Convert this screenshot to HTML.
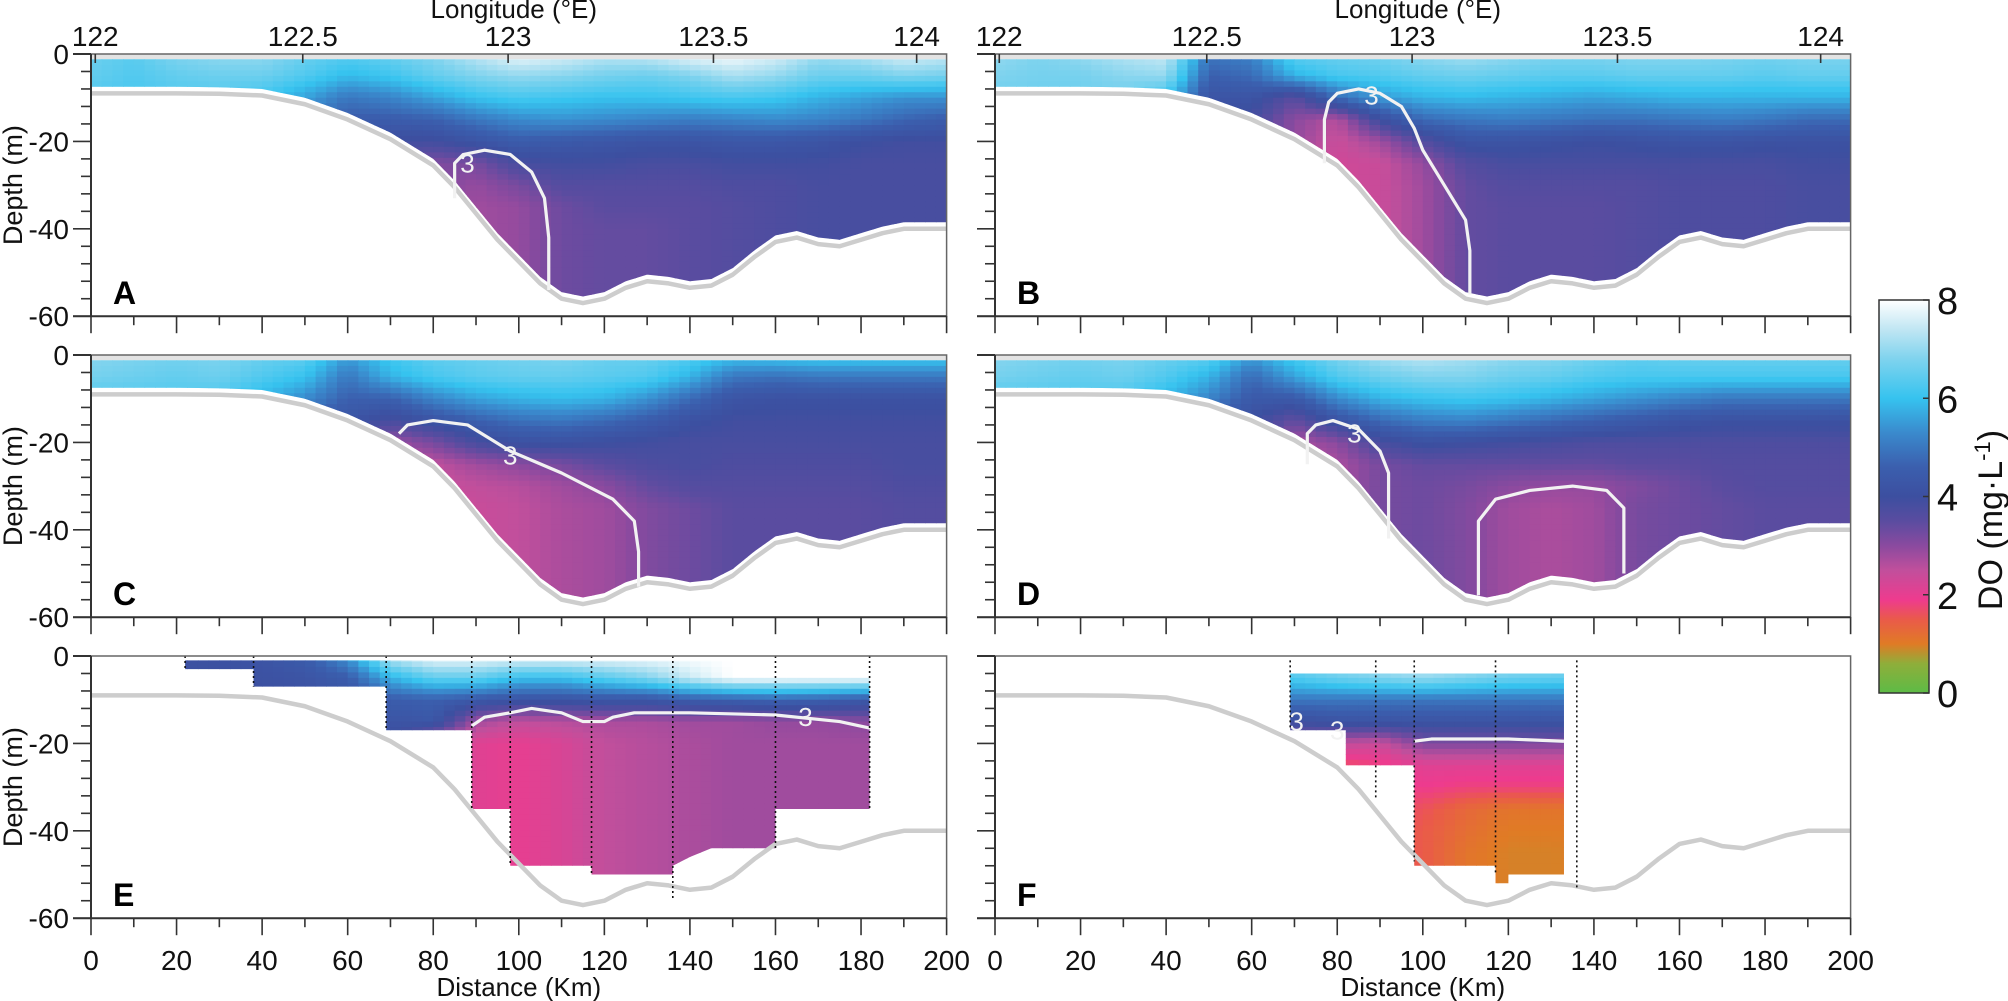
<!DOCTYPE html>
<html><head><meta charset="utf-8"><style>
html,body{margin:0;padding:0;background:#fff;}
svg{display:block;font-family:"Liberation Sans",Arial,sans-serif;}
</style></head><body>
<svg id="chart" width="2008" height="1001" viewBox="0 0 2008 1001" xmlns="http://www.w3.org/2000/svg">
<defs>
<linearGradient id="cbgrad" x1="0" y1="1" x2="0" y2="0"></linearGradient>
</defs>
<g id="panels"></g>
<g id="colorbar"></g>
</svg>
<script>
// ---- data ----
const gridKm = [0,10,20,30,40,50,60,70,80,90,100,110,120,130,140,150,160,170,180,190,200];
const gridDepth = [0,-5,-10,-15,-20,-25,-30,-35,-40,-45,-50,-55,-60];
const bathyKm = [0,10,20,30,40,50,60,70,80,85,90,95,100,105,110,115,120,125,130,135,140,145,150,155,160,165,170,175,180,185,190,195,200];
const bathyDepth = [-7.5,-7.5,-7.5,-7.6,-8,-10,-13.5,-18,-24,-29,-35,-41,-46,-51,-54.5,-55.5,-54.5,-52,-50.5,-51,-52,-51.5,-49,-45,-41.5,-40.5,-42,-42.5,-41,-39.5,-38.5,-38.5,-38.5];
const cbTicks = [0,2,4,6,8];
const depthTicks = [0,-20,-40,-60];
const distTicks = [0,20,40,60,80,100,120,140,160,180,200];
const lonTicks = ["122","122.5","123","123.5","124"];
const lonKm = [1,49.5,97.5,145.5,193];

const doA = [
[6.6,6.4,6.8,7.0,7.0,6.6,6.4,6.6,6.9,7.4,7.9,7.7,7.4,7.5,7.9,8.0,7.7,7.1,7.3,7.7,7.5],
[6.5,6.3,6.5,6.6,6.6,6.3,5.9,6.1,6.5,6.8,7.0,6.9,6.7,6.6,6.8,7.2,7.0,6.6,6.6,6.8,6.7],
[6.3,6.2,6.3,6.3,6.1,5.6,5.0,5.2,5.6,6.0,6.2,6.1,6.0,6.0,6.1,6.2,6.1,5.8,5.6,5.4,5.4],
[6.0,6.0,6.0,5.8,5.5,4.9,4.5,4.5,4.6,5.0,5.3,5.4,5.3,5.2,5.1,5.2,5.3,5.2,5.0,4.7,4.5],
[5.5,5.5,5.5,5.2,4.8,4.3,4.0,3.9,3.9,4.2,4.5,4.4,4.3,4.2,4.2,4.3,4.3,4.2,4.0,3.9,3.9],
[5.0,5.0,5.0,4.8,4.4,4.0,3.8,3.5,3.1,3.2,3.8,3.9,3.9,3.8,3.8,3.9,3.9,3.9,3.8,3.8,3.8],
[4.5,4.5,4.5,4.4,4.2,3.9,3.7,3.4,3.1,2.9,3.2,3.6,3.6,3.6,3.6,3.7,3.7,3.8,3.8,3.8,3.8],
[4.3,4.3,4.3,4.2,4.0,3.8,3.6,3.3,3.1,2.8,2.9,3.3,3.5,3.5,3.5,3.6,3.7,3.8,3.8,3.8,3.8],
[4.2,4.2,4.2,4.1,3.9,3.8,3.6,3.3,3.1,2.8,2.9,3.3,3.4,3.4,3.5,3.6,3.7,3.8,3.8,3.8,3.8],
[4.2,4.2,4.2,4.1,3.9,3.8,3.6,3.3,3.1,2.8,2.9,3.3,3.4,3.4,3.5,3.6,3.7,3.8,3.8,3.8,3.8],
[4.2,4.2,4.2,4.1,3.9,3.8,3.6,3.3,3.1,2.8,2.9,3.3,3.4,3.4,3.5,3.6,3.7,3.8,3.8,3.8,3.8],
[4.2,4.2,4.2,4.1,3.9,3.8,3.6,3.3,3.1,2.8,2.9,3.3,3.4,3.4,3.5,3.6,3.7,3.8,3.8,3.8,3.8],
[4.2,4.2,4.2,4.1,3.9,3.8,3.6,3.3,3.1,2.8,2.9,3.3,3.4,3.4,3.5,3.6,3.7,3.8,3.8,3.8,3.8]];
const doB = [
[7.0,6.8,7.0,7.3,7.5,5.0,5.2,6.5,6.6,6.7,7.0,7.2,7.0,6.8,6.8,6.9,6.9,6.8,6.7,6.8,6.8],
[6.8,6.7,6.7,6.9,7.0,4.6,4.8,5.8,6.2,6.3,6.5,6.6,6.5,6.4,6.4,6.5,6.5,6.5,6.4,6.5,6.5],
[6.6,6.6,6.6,6.6,6.0,4.2,4.2,3.5,4.8,5.5,5.8,5.9,5.8,5.7,5.6,5.7,5.8,5.8,5.8,5.8,5.8],
[6.0,6.0,6.0,5.8,5.0,4.0,3.8,3.0,2.6,4.0,4.8,5.0,5.1,5.0,4.9,4.9,5.0,5.1,5.0,4.8,4.8],
[5.5,5.5,5.5,5.2,4.5,3.9,3.6,2.9,2.4,2.8,3.6,4.2,4.2,4.1,4.0,4.1,4.2,4.2,4.1,4.1,4.1],
[5.0,5.0,5.0,4.8,4.2,3.8,3.5,2.8,2.3,2.4,2.9,3.6,3.8,3.8,3.8,3.8,3.8,3.8,3.8,3.9,3.9],
[4.6,4.6,4.6,4.4,4.0,3.7,3.5,2.8,2.3,2.4,2.8,3.4,3.6,3.6,3.6,3.6,3.7,3.7,3.7,3.8,3.8],
[4.6,4.6,4.6,4.4,4.0,3.7,3.5,2.8,2.3,2.4,2.8,3.4,3.5,3.5,3.5,3.6,3.7,3.7,3.7,3.8,3.8],
[4.6,4.6,4.6,4.4,4.0,3.7,3.5,2.8,2.3,2.4,2.8,3.4,3.5,3.5,3.5,3.6,3.7,3.7,3.7,3.8,3.8],
[4.6,4.6,4.6,4.4,4.0,3.7,3.5,2.8,2.3,2.4,2.8,3.4,3.5,3.5,3.5,3.6,3.7,3.7,3.7,3.8,3.8],
[4.6,4.6,4.6,4.4,4.0,3.7,3.5,2.8,2.3,2.4,2.8,3.4,3.5,3.5,3.5,3.6,3.7,3.7,3.7,3.8,3.8],
[4.6,4.6,4.6,4.4,4.0,3.7,3.5,2.8,2.3,2.4,2.8,3.4,3.5,3.5,3.5,3.6,3.7,3.7,3.7,3.8,3.8],
[4.6,4.6,4.6,4.4,4.0,3.7,3.5,2.8,2.3,2.4,2.8,3.4,3.5,3.5,3.5,3.6,3.7,3.7,3.7,3.8,3.8]];
const doC = [
[6.9,6.8,6.7,6.8,6.6,6.5,5.6,6.2,6.5,6.6,6.7,6.8,6.6,6.6,6.4,6.1,6.2,6.3,6.3,6.3,6.3],
[6.7,6.6,6.5,6.6,6.3,6.0,5.0,5.8,6.2,6.4,6.5,6.5,6.4,6.3,5.8,5.0,4.9,5.0,5.0,5.0,5.0],
[6.3,6.3,6.3,6.2,5.8,5.3,4.6,4.6,5.2,5.6,5.8,5.9,5.8,5.4,4.8,4.2,4.1,4.1,4.1,4.1,4.1],
[6.0,6.0,6.0,5.6,5.0,4.5,4.2,3.8,4.2,4.6,4.9,5.0,4.8,4.5,4.1,3.9,3.9,3.9,3.9,3.9,3.9],
[5.5,5.5,5.4,5.2,4.7,4.3,3.9,2.8,3.2,3.8,4.1,4.1,4.0,3.9,3.8,3.8,3.8,3.8,3.8,3.8,3.8],
[5.0,5.0,5.0,4.8,4.5,4.2,3.8,2.5,2.5,2.8,3.0,3.2,3.5,3.7,3.8,3.7,3.7,3.7,3.7,3.8,3.8],
[4.6,4.6,4.6,4.5,4.3,4.1,3.7,2.4,2.4,2.5,2.6,2.8,3.0,3.4,3.6,3.6,3.6,3.6,3.6,3.7,3.7],
[4.5,4.5,4.5,4.4,4.2,4.0,3.6,2.4,2.3,2.4,2.5,2.7,2.8,3.1,3.3,3.5,3.5,3.5,3.5,3.6,3.6],
[4.5,4.5,4.5,4.4,4.2,4.0,3.6,2.4,2.3,2.4,2.5,2.7,2.8,3.1,3.3,3.5,3.5,3.5,3.5,3.6,3.6],
[4.5,4.5,4.5,4.4,4.2,4.0,3.6,2.4,2.3,2.4,2.5,2.7,2.8,3.1,3.3,3.5,3.5,3.5,3.5,3.6,3.6],
[4.5,4.5,4.5,4.4,4.2,4.0,3.6,2.4,2.3,2.4,2.5,2.7,2.8,3.1,3.3,3.5,3.5,3.5,3.5,3.6,3.6],
[4.5,4.5,4.5,4.4,4.2,4.0,3.6,2.4,2.3,2.4,2.5,2.7,2.8,3.1,3.3,3.5,3.5,3.5,3.5,3.6,3.6],
[4.5,4.5,4.5,4.4,4.2,4.0,3.6,2.4,2.3,2.4,2.5,2.7,2.8,3.1,3.3,3.5,3.5,3.5,3.5,3.6,3.6]];
const doD = [
[6.9,6.8,6.7,6.8,6.6,6.5,5.6,6.3,6.8,7.2,7.4,7.2,7.0,6.9,6.7,6.5,6.6,6.6,6.6,6.6,6.6],
[6.7,6.6,6.5,6.6,6.3,5.8,4.8,5.6,6.3,6.6,6.8,6.8,6.6,6.5,6.3,6.2,6.2,6.2,6.2,6.2,6.2],
[6.3,6.3,6.3,6.2,5.8,5.2,4.4,4.4,5.3,5.8,6.0,6.1,6.0,5.8,5.6,5.4,5.2,5.0,5.0,5.0,5.0],
[6.0,6.0,6.0,5.6,5.0,4.4,4.0,3.4,4.2,4.8,5.1,5.2,5.0,4.8,4.6,4.4,4.2,4.1,4.1,4.1,4.1],
[5.5,5.5,5.4,5.2,4.6,4.2,3.8,2.7,3.0,3.8,4.1,4.0,3.9,3.8,3.7,3.7,3.7,3.7,3.7,3.7,3.7],
[5.0,5.0,5.0,4.8,4.4,4.1,3.7,2.6,2.7,3.2,3.4,3.4,3.4,3.4,3.4,3.5,3.5,3.6,3.6,3.6,3.6],
[4.6,4.6,4.6,4.5,4.3,4.0,3.6,2.6,2.7,3.2,3.3,3.2,3.0,2.9,2.9,3.1,3.3,3.5,3.6,3.6,3.6],
[4.5,4.5,4.5,4.4,4.2,3.9,3.5,2.6,2.8,3.2,3.3,3.1,2.8,2.7,2.8,3.2,3.3,3.4,3.5,3.5,3.5],
[4.5,4.5,4.5,4.4,4.2,3.9,3.5,2.6,2.8,3.2,3.3,3.1,2.8,2.7,2.8,3.2,3.3,3.4,3.5,3.5,3.5],
[4.5,4.5,4.5,4.4,4.2,3.9,3.5,2.6,2.8,3.2,3.3,3.1,2.8,2.7,2.8,3.2,3.3,3.4,3.5,3.5,3.5],
[4.5,4.5,4.5,4.4,4.2,3.9,3.5,2.6,2.8,3.2,3.3,3.1,2.8,2.7,2.8,3.2,3.3,3.4,3.5,3.5,3.5],
[4.5,4.5,4.5,4.4,4.2,3.9,3.5,2.6,2.8,3.2,3.3,3.1,2.8,2.7,2.8,3.2,3.3,3.4,3.5,3.5,3.5],
[4.5,4.5,4.5,4.4,4.2,3.9,3.5,2.6,2.8,3.2,3.3,3.1,2.8,2.7,2.8,3.2,3.3,3.4,3.5,3.5,3.5]];
const doE = [
[4.0,4.0,4.1,4.1,4.2,4.5,5.5,7.5,8.0,8.0,8.0,8.0,8.0,8.0,8.0,8.0,8.0,8.0,8.0,8.0,8.0],
[4.0,4.0,4.0,4.0,4.1,4.2,4.5,5.8,6.5,6.5,6.0,6.0,6.4,6.8,7.5,8.0,8.0,8.0,8.0,8.0,8.0],
[4.0,4.0,4.0,4.0,4.0,4.1,4.2,4.5,4.6,4.4,4.2,4.2,4.3,4.3,4.5,4.6,4.7,4.6,4.4,4.4,4.4],
[4.0,4.0,4.0,4.0,4.0,4.1,4.1,4.2,4.3,2.8,2.5,2.6,2.7,2.7,2.8,2.8,2.9,2.9,3.0,3.0,3.0],
[4.0,4.0,4.0,4.0,4.0,4.0,4.0,4.0,2.5,2.1,2.0,2.2,2.5,2.6,2.7,2.8,2.8,2.8,2.8,2.8,2.8],
[4.0,4.0,4.0,4.0,4.0,4.0,4.0,4.0,2.5,2.1,2.0,2.2,2.5,2.6,2.7,2.8,2.8,2.8,2.8,2.8,2.8],
[4.0,4.0,4.0,4.0,4.0,4.0,4.0,4.0,2.5,2.1,2.0,2.2,2.5,2.6,2.7,2.8,2.8,2.8,2.8,2.8,2.8],
[4.0,4.0,4.0,4.0,4.0,4.0,4.0,4.0,2.5,2.1,2.0,2.2,2.5,2.6,2.7,2.8,2.8,2.8,2.8,2.8,2.8],
[4.0,4.0,4.0,4.0,4.0,4.0,4.0,4.0,2.5,2.1,2.0,2.2,2.5,2.6,2.7,2.8,2.8,2.8,2.8,2.8,2.8],
[4.0,4.0,4.0,4.0,4.0,4.0,4.0,4.0,2.5,2.1,2.0,2.2,2.5,2.6,2.7,2.8,2.8,2.8,2.8,2.8,2.8],
[4.0,4.0,4.0,4.0,4.0,4.0,4.0,4.0,2.5,2.1,2.0,2.2,2.5,2.6,2.7,2.8,2.8,2.8,2.8,2.8,2.8],
[4.0,4.0,4.0,4.0,4.0,4.0,4.0,4.0,2.5,2.1,2.0,2.2,2.5,2.6,2.7,2.8,2.8,2.8,2.8,2.8,2.8],
[4.0,4.0,4.0,4.0,4.0,4.0,4.0,4.0,2.5,2.1,2.0,2.2,2.5,2.6,2.7,2.8,2.8,2.8,2.8,2.8,2.8]];
const doF = [
[8,8,8,8,8,8,8,6.8,7.0,7.4,7.6,7.4,7.2,7.0,7,7,7,7,7,7,7],
[6,6,6,6,6,6,6,6.3,6.6,6.8,7.0,6.8,6.6,6.5,6.5,6.5,6.5,6.5,6.5,6.5,6.5],
[5,5,5,5,5,5,5,5.0,5.0,5.0,5.0,5.0,5.0,5.0,5,5,5,5,5,5,5],
[4,4,4,4,4,4,4,4.0,4.2,4.2,4.2,4.2,4.2,4.2,4.2,4.2,4.2,4.2,4.2,4.2,4.2],
[3,3,3,3,3,3,3,3.0,2.5,2.4,3.1,3.1,3.1,3.1,3.1,3.1,3.1,3.1,3.1,3.1,3.1],
[2,2,2,2,2,2,2,2.0,1.6,1.8,2.1,2.1,2.1,2.1,2.1,2.1,2.1,2.1,2.1,2.1,2.1],
[2,2,2,2,2,2,2,1.8,1.8,1.8,1.9,1.8,1.8,1.8,1.8,1.8,1.8,1.8,1.8,1.8,1.8],
[2,2,2,2,2,2,2,1.8,1.8,1.7,1.6,1.3,1.1,1.1,1.1,1.1,1.1,1.1,1.1,1.1,1.1],
[2,2,2,2,2,2,2,1.8,1.8,1.6,1.5,1.2,1.0,1.0,1.0,1.0,1.0,1.0,1.0,1.0,1.0],
[2,2,2,2,2,2,2,1.8,1.8,1.6,1.5,1.1,0.95,0.95,1,1,1,1,1,1,1],
[2,2,2,2,2,2,2,1.8,1.8,1.6,1.5,1.1,0.95,0.95,1,1,1,1,1,1,1],
[2,2,2,2,2,2,2,1.8,1.8,1.6,1.5,1.1,0.95,0.95,1,1,1,1,1,1,1],
[2,2,2,2,2,2,2,1.8,1.8,1.6,1.5,1.1,0.95,0.95,1,1,1,1,1,1,1]];

const regionEkm = [22,182,182,160,160,145,140,136,136,117,117,98,98,89,89,69,69,38,38,22];
const regionEdepth = [-1,-1,-35,-35,-44,-44,-46,-48,-50,-50,-48,-48,-35,-35,-17,-17,-7,-7,-3,-3];
const regionFkm = [69,133,133,120,120,117,117,98,98,82,82,69];
const regionFdepth = [-4,-4,-50,-50,-52,-52,-48,-48,-25,-25,-17,-17];
const stationsEkm = [22,38,69,89,98,117,136,160,182];
const stationsEbottom = [-3,-7,-17,-35,-48,-50,-56,-44,-35];
const stationsFkm = [69,89,98,117,136];
const stationsFbottom = [-17,-33,-47,-50,-53];

const contourAkm = [85,85,87,92,98,103,106,107,107];
const contourAdepth = [-33,-25,-23,-22,-23,-27,-33,-42,-54];
const contourBkm = [77,77,78,80,85,90,95,98,100,105,110,111,111];
const contourBdepth = [-25,-15,-11,-9,-8,-9,-12,-17,-22,-30,-38,-45,-55];
const contourCkm = [72,74,80,88,98,110,122,127,128,128];
const contourCdepth = [-18,-16,-15,-16,-22,-27,-33,-38,-45,-53];
const contourD1km = [73,73,75,79,85,90,92,92];
const contourD1depth = [-25,-18,-16,-15,-17,-22,-27,-42];
const contourD2km = [113,113,117,125,135,143,147,147];
const contourD2depth = [-55,-38,-33,-31,-30,-31,-35,-50];
const contourEkm = [89,92,98,103,110,115,120,122,127,140,160,175,182];
const contourEdepth = [-16,-14,-13,-12,-13,-15,-15,-14,-13,-13,-13.5,-15,-16.5];
const contourFkm = [98,102,110,120,133];
const contourFdepth = [-19.5,-19,-19,-19,-19.5];

const cmapVal = [0,0.6,1.0,1.5,1.9,2.5,3.0,3.5,4.0,4.6,5.3,6.0,6.8,7.4,8];
const cmapCol = ["#5dbb46","#8fae3a","#e07b25","#ea5a4a","#ee3b8e","#c14f9c","#8a4a9f","#5a4ca0","#3c4fa0","#3b5fae","#3a8acd","#36c3ef","#7fd3ee","#c0e6f3","#ffffff"];

// ---- helpers ----
const NS = "http://www.w3.org/2000/svg";
function mk(tag, attrs, parent){ const e=document.createElementNS(NS,tag); for(const k in attrs) e.setAttribute(k,attrs[k]); if(parent) parent.appendChild(e); return e; }
function hex(c){ return [parseInt(c.substr(1,2),16),parseInt(c.substr(3,2),16),parseInt(c.substr(5,2),16)]; }
function colorOf(v){
  if(v<=cmapVal[0]) return cmapCol[0];
  for(let i=1;i<cmapVal.length;i++){
    if(v<=cmapVal[i]){ const t=(v-cmapVal[i-1])/(cmapVal[i]-cmapVal[i-1]); const a=hex(cmapCol[i-1]), b=hex(cmapCol[i]);
      return "rgb("+a.map((x,j)=>Math.round(x+(b[j]-x)*t)).join(",")+")"; }
  }
  return cmapCol[cmapCol.length-1];
}
function sample(grid, km, d){
  let ci=Math.min(gridKm.length-2, Math.max(0, Math.floor(km/10)));
  let ri=Math.min(gridDepth.length-2, Math.max(0, Math.floor(-d/5)));
  const tx=Math.min(1,Math.max(0,(km-gridKm[ci])/10)), ty=Math.min(1,Math.max(0,(-d+gridDepth[ri])/5));
  const a=grid[ri][ci], b=grid[ri][ci+1], c=grid[ri+1][ci], e=grid[ri+1][ci+1];
  return (a*(1-tx)+b*tx)*(1-ty)+(c*(1-tx)+e*tx)*ty;
}

const root = document.getElementById("panels");
const KX=4.278, KY=4.37, H=262.2, W=855.6;
const panels = [
 {id:"A",x0:91,y0:54,grid:doA,row:0,c:[[contourAkm,contourAdepth]],lab:[88,-25]},
 {id:"B",x0:995,y0:54,grid:doB,row:0,c:[[contourBkm,contourBdepth]],lab:[88,-9.5]},
 {id:"C",x0:91,y0:355,grid:doC,row:1,c:[[contourCkm,contourCdepth]],lab:[98,-23]},
 {id:"D",x0:995,y0:355,grid:doD,row:1,c:[[contourD1km,contourD1depth],[contourD2km,contourD2depth]],lab:[84,-18]},
 {id:"E",x0:91,y0:656,grid:doE,row:2,c:[[contourEkm,contourEdepth]],lab:[167,-14],rk:regionEkm,rd:regionEdepth,sk:stationsEkm,sb:stationsEbottom,st:0},
 {id:"F",x0:995,y0:656,grid:doF,row:2,c:[[contourFkm,contourFdepth]],lab:[80,-17],rk:regionFkm,rd:regionFdepth,sk:stationsFkm,sb:stationsFbottom,st:-1}
];

panels.forEach(p=>{
  const X=km=>p.x0+km*KX, Y=d=>p.y0-d*KY;
  const g=mk("g",{},root);
  
  
  const cp=mk("clipPath",{id:"clip"+p.id},g);
  let pts=[];
  if(p.rk){ pts=p.rk.map((k,i)=>X(k)+","+Y(p.rd[i])); }
  else {
    pts.push(X(0)+","+Y(-1.2));
    pts.push(X(200)+","+Y(-1.2));
    for(let i=bathyKm.length-1;i>=0;i--) pts.push(X(bathyKm[i])+","+Y(bathyDepth[i]));
  }
  mk("polygon",{points:pts.join(" ")},cp);
  if(!p.rk){
    const band=mk("rect",{x:X(0),y:Y(0),width:W,height:1.2*KY,fill:"#e3e3e3"},g);
    
    
  }
  const hm=mk("g",{"clip-path":"url(#clip"+p.id+")"},g);
  
  
  const dk=2.5, dd=1.25;
  for(let km=0; km<200; km+=dk){
    for(let d=0; d>-60; d-=dd){
      const v=sample(p.grid, km+dk/2, d-dd/2);
      const r=mk("rect",{x:X(km).toFixed(2),y:Y(d).toFixed(2),width:(dk*KX+0.6).toFixed(2),height:(dd*KY+0.6).toFixed(2),fill:colorOf(v)},hm);
      
      
    }
  }
  const bl=mk("polyline",{points:bathyKm.map((k,i)=>X(k)+","+Y(bathyDepth[i]-1.5)).join(" "),fill:"none",stroke:"#cdcdcd","stroke-width":4.5,"stroke-linejoin":"round"},g);
  
  
  p.c.forEach(c=>{
    const cl=mk("polyline",{points:c[0].map((k,i)=>X(k)+","+Y(c[1][i])).join(" "),fill:"none",stroke:"#f2f2f2","stroke-width":3.2,"stroke-linejoin":"round"},g);
    
    
  });
  const ct=mk("text",{x:X(p.lab[0]),y:Y(p.lab[1])+9,"font-size":26,fill:"#f2f2f2","text-anchor":"middle"},g);
  ct.textContent="3";
  
  
  if(p.id==="F"){
    const ct2=mk("text",{x:X(70.5),y:Y(-15)+9,"font-size":26,fill:"#f2f2f2","text-anchor":"middle"},g);
    ct2.textContent="3";
    
    
  }
  if(p.sk){
    p.sk.forEach((k,i)=>{
      const sl=mk("line",{x1:X(k),x2:X(k),y1:Y(p.st),y2:Y(p.sb[i]),stroke:"#111","stroke-width":1.6,"stroke-dasharray":"2,3"},g);
      
      
    });
  }
  const fr=mk("rect",{x:p.x0,y:p.y0,width:W,height:H,fill:"none",stroke:"#666","stroke-width":1.5},g);
  
  
  mk("line",{x1:p.x0,x2:p.x0,y1:p.y0,y2:p.y0+H,stroke:"#333","stroke-width":2},g);
  mk("line",{x1:p.x0-18,x2:p.x0+W,y1:p.y0+H,y2:p.y0+H,stroke:"#333","stroke-width":2},g);
  mk("line",{x1:p.x0-18,x2:p.x0,y1:p.y0,y2:p.y0,stroke:"#333","stroke-width":2},g);
  for(let d=0; d>=-60; d-=4){
    const len=(d%20===0)?18:10;
    mk("line",{x1:p.x0-len,x2:p.x0,y1:Y(d),y2:Y(d),stroke:"#333","stroke-width":1.6},g);
  }
  if(p.x0<500){
    depthTicks.forEach(d=>{
      const t=mk("text",{x:p.x0-22,y:Y(d)+10,"font-size":28,"text-anchor":"end",fill:"#111"},g);
      t.textContent=String(d);
      
      
    });
    const yt=mk("text",{x:0,y:0,"font-size":27,"text-anchor":"middle",fill:"#111",transform:"translate(22,"+(p.y0+H/2)+") rotate(-90)"},g);
    yt.textContent="Depth (m)";
    
    
  }
  for(let k=0;k<=200;k+=10){
    const len=(k%20===0)?17:9;
    mk("line",{x1:X(k),x2:X(k),y1:p.y0+H,y2:p.y0+H+len,stroke:"#333","stroke-width":1.6},g);
  }
  if(p.row===2){
    distTicks.forEach(k=>{
      const t=mk("text",{x:X(k),y:970,"font-size":28,"text-anchor":"middle",fill:"#111"},g);
      t.textContent=String(k);
      
      
    });
    const xt=mk("text",{x:p.x0+W/2,y:996,"font-size":26,"text-anchor":"middle",fill:"#111"},g);
    xt.textContent="Distance (Km)";
    
    
  }
  if(p.row===0){
    lonTicks.forEach((l,i)=>{
      mk("line",{x1:X(lonKm[i]),x2:X(lonKm[i]),y1:p.y0,y2:p.y0+9,stroke:"#333","stroke-width":1.6},g);
      const t=mk("text",{x:X(lonKm[i]),y:46,"font-size":28,"text-anchor":"middle",fill:"#111"},g);
      t.textContent=l;
      
      
    });
    const lt=mk("text",{x:p.x0+W/2-5,y:18,"font-size":26,"text-anchor":"middle",fill:"#111"},g);
    lt.textContent="Longitude (°E)";
    
    
  }
  const pl=mk("text",{x:p.x0+22,y:p.y0+H-12,"font-size":32,"font-weight":"bold",fill:"#000"},g);
  pl.textContent=p.id;
  
  
});

const cb=document.getElementById("colorbar");
const grad=document.getElementById("cbgrad");
cmapVal.forEach((v,i)=>{ mk("stop",{offset:(v/8),"stop-color":cmapCol[i]},grad); });
const cbTop=300, cbBot=693, cbX=1879, cbW=50;
const cbr=mk("rect",{x:cbX,y:cbTop,width:cbW,height:cbBot-cbTop,fill:"url(#cbgrad)",stroke:"#333","stroke-width":1.5},cb);


cbTicks.forEach(v=>{
  const y=cbBot-(v/8)*(cbBot-cbTop);
  mk("line",{x1:cbX+cbW-6,x2:cbX+cbW,y1:y,y2:y,stroke:"#333","stroke-width":1.5},cb);
  const t=mk("text",{x:cbX+cbW+8,y:y+14,"font-size":38,fill:"#111"},cb);
  t.textContent=String(v);
  
  
});
const cbt=mk("text",{x:0,y:0,"font-size":34,"text-anchor":"middle",fill:"#111",transform:"translate(2002,520) rotate(-90)"},cb);
cbt.innerHTML='DO (mg·L<tspan dy="-12" font-size="22">-1</tspan><tspan dy="12">)</tspan>';


</script>
</body></html>
